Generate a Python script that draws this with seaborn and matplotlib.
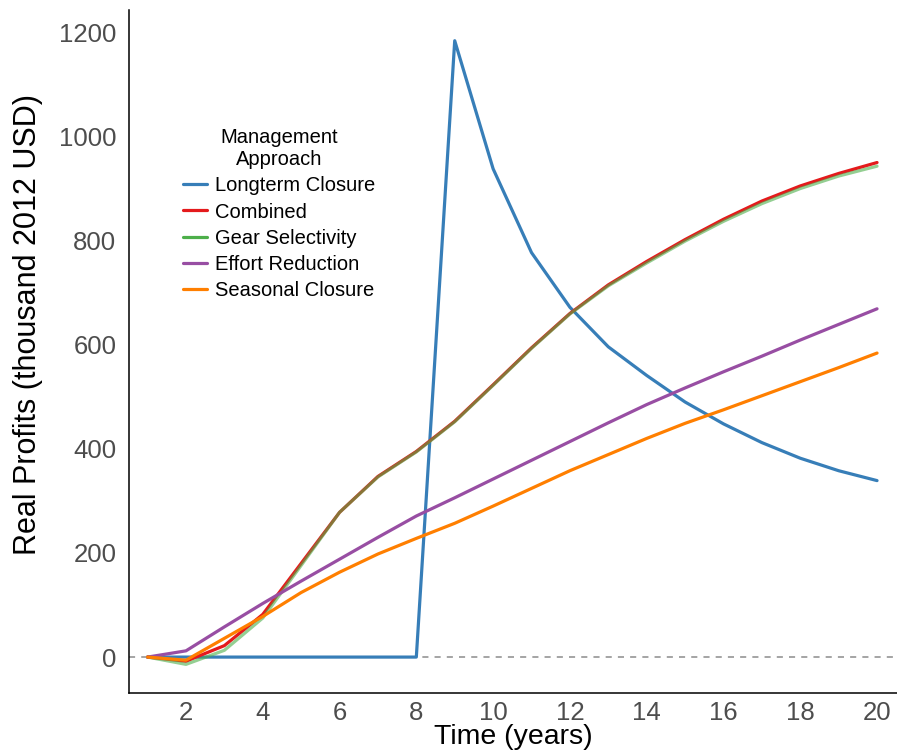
import numpy as np
import pandas as pd
import matplotlib
matplotlib.use("Agg")
import matplotlib.pyplot as plt
import seaborn as sns

# Simulated real profits by management approach (thousand 2012 USD)
years = list(range(1, 21))
longterm_closure = [0, 0, 0, 0, 0, 0, 0, 0, 1184, 938, 777, 672, 596, 541,
                    490, 448, 412, 382, 358, 339]
combined = [0, -8, 22, 82, 180, 278, 347, 395, 453, 523, 594, 660, 715, 760,
            802, 841, 876, 905, 929, 950]
gear_selectivity = [0, -14, 13, 75, 176, 278, 346, 394, 452, 522, 593, 659,
                    713, 757, 799, 837, 871, 900, 924, 943]
effort_reduction = [0, 12, 58, 103, 146, 188, 230, 271, 306, 342, 378, 414,
                    450, 485, 517, 548, 578, 609, 639, 669]
seasonal_closure = [0, -6, 36, 78, 124, 163, 198, 228, 257, 290, 324, 358,
                    389, 420, 449, 475, 502, 529, 556, 584]

approaches = ["Longterm Closure", "Combined", "Gear Selectivity",
              "Effort Reduction", "Seasonal Closure"]
series = [longterm_closure, combined, gear_selectivity, effort_reduction,
          seasonal_closure]
colors = ["#377EB8", "#E41A1C", "#4DAF4A", "#984EA3", "#FF7F00"]

df = pd.concat(
    [pd.DataFrame({"Time": years, "Profit": vals, "Approach": name})
     for name, vals in zip(approaches, series)],
    ignore_index=True,
)

sns.set_style("white")
plt.rcParams["font.family"] = ["Liberation Sans", "DejaVu Sans"]
plt.rcParams["text.color"] = "black"

W, H = 897, 756
fig = plt.figure(figsize=(W / 100, H / 100), dpi=100)
ax = fig.add_axes([129 / W, 1 - 693 / H, (W - 129) / W, (693 - 10) / H])

ax.axhline(0, color="#8C8C8C", lw=1.1, ls=(0, (4, 4)), zorder=1)

sns.lineplot(data=df, x="Time", y="Profit", hue="Approach",
             hue_order=approaches, palette=colors, linewidth=2.3,
             ax=ax, zorder=2)

# Gear Selectivity is drawn semi-transparent over Combined
for line in ax.get_lines():
    if matplotlib.colors.to_hex(line.get_color()).lower() == "#4daf4a":
        line.set_alpha(0.6)

ax.set_xlim(0.516, 20.52)
ax.set_ylim(-69, 1243)
ax.set_xticks(range(2, 21, 2))
ax.set_yticks(range(0, 1201, 200))
ax.tick_params(axis="both", length=0, labelsize=18.5, colors="#4D4D4D")
ax.tick_params(axis="x", pad=5.5)
ax.tick_params(axis="y", pad=9)

ax.set_xlabel("Time (years)", fontsize=20.5, color="black")
ax.xaxis.set_label_coords(0.5, -0.0455)
ax.set_ylabel("Real Profits (thousand 2012 USD)", fontsize=22,
              color="black")
ax.yaxis.set_label_coords(-0.1115, 0.539)

for side in ["top", "right"]:
    ax.spines[side].set_visible(False)
for side in ["left", "bottom"]:
    ax.spines[side].set_color("black")
    ax.spines[side].set_linewidth(1.1)

handles, labels = ax.get_legend_handles_labels()
leg = ax.legend(handles, labels, title="Management\nApproach",
                loc="upper left",
                bbox_to_anchor=(183 / W, 1 - 128 / H),
                bbox_transform=fig.transFigure,
                frameon=False, fontsize=14.5, title_fontsize=14.5,
                handlelength=1.2, handletextpad=0.4, labelspacing=0.36,
                borderpad=0, borderaxespad=0)
leg.get_title().set_multialignment("center")
leg.get_title().set_color("black")
for t in leg.get_texts():
    t.set_color("black")
for lh in leg.get_lines():
    lh.set_linewidth(2.3)
    lh.set_alpha(1)

fig.savefig("out.png", dpi=100, facecolor="white")
